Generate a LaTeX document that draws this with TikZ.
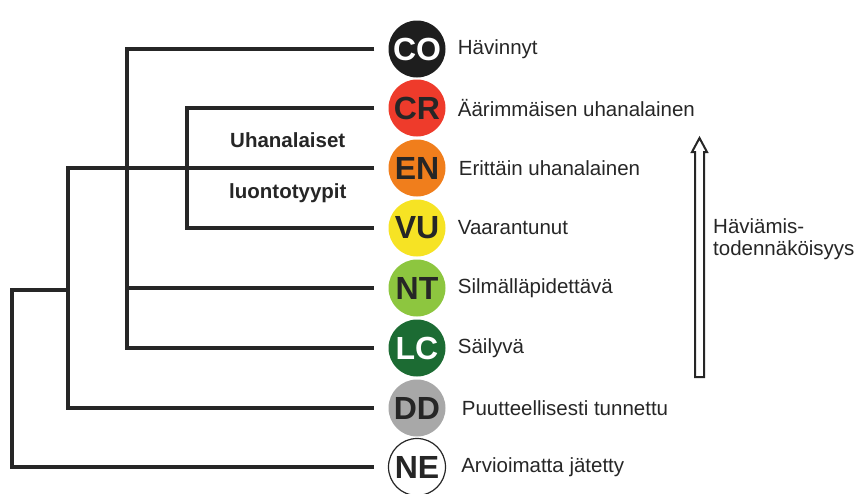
\documentclass[tikz,border=0pt]{standalone}
\usepackage{fontspec}
\setmainfont{Liberation Sans}
\begin{document}
\begin{tikzpicture}[x=1pt,y=-1pt,
  every node/.style={text=ink},
  badge/.style={circle, minimum size=57pt, inner sep=0pt,
    font=\fontsize{32}{32}\selectfont\bfseries},
  lbl/.style={anchor=west, inner sep=0pt, font=\fontsize{20.5}{22}\selectfont},
  grp/.style={anchor=west, inner sep=0pt, font=\fontsize{20.5}{22}\selectfont\bfseries},
  branch/.style={draw=ink, line width=4.5pt, line join=miter},
  rootline/.style={draw=ink, line width=3.5pt, line join=miter},
  trend/.style={draw=ink, line width=2pt, line join=miter}]
\definecolor{ink}{HTML}{262626}
\definecolor{coC}{HTML}{1E1E1E}
\definecolor{crC}{HTML}{EE3B2B}
\definecolor{enC}{HTML}{F07E1C}
\definecolor{vuC}{HTML}{F6E324}
\definecolor{ntC}{HTML}{8DC63F}
\definecolor{lcC}{HTML}{1C6B33}
\definecolor{ddC}{HTML}{A8A8A8}
\useasboundingbox (0,0) rectangle (857,493);

% category badges
\node[badge, fill=coC, text=white] (co) at (417,49) {CO};
\node[badge, fill=crC] (cr) at (417,108) {CR};
\node[badge, fill=enC] (en) at (417,168) {EN};
\node[badge, fill=vuC] (vu) at (417,228) {VU};
\node[badge, fill=ntC] (nt) at (417,288) {NT};
\node[badge, fill=lcC, text=white] (lc) at (417,348) {LC};
\node[badge, fill=ddC] (dd) at (417,408) {DD};
\node[badge, fill=white, draw=ink, line width=1.2pt] (ne) at (417,467) {NE};

% category names
\node[lbl] (tco) at ([xshift=12pt]co.east) {Hävinnyt};
\node[lbl] (tcr) at ([xshift=12pt]cr.east) {Äärimmäisen uhanalainen};
\node[lbl] (ten) at ([xshift=13pt]en.east) {Erittäin uhanalainen};
\node[lbl] (tvu) at ([xshift=12pt]vu.east) {Vaarantunut};
\node[lbl] (tnt) at ([xshift=12pt]nt.east) {Silmälläpidettävä};
\node[lbl] (tlc) at ([xshift=12pt]lc.east) {Säilyvä};
\node[lbl] (tdd) at ([xshift=16pt]dd.east) {Puutteellisesti tunnettu};
\node[lbl] (tne) at ([xshift=15pt]ne.east) {Arvioimatta jätetty};

% group label
\node[grp] (g1) at (230,140) {Uhanalaiset};
\node[grp] (g2) at (229,193) {luontotyypit};

% branching lines
\coordinate (kA) at (127,288);
\coordinate (kB) at (187,168);
\coordinate (kC) at (68,290);
\coordinate (kD) at (12,380);
\draw[branch] ([xshift=-14pt]co.west) -| (kA) |- ([xshift=-14pt]lc.west);
\draw[branch] (kA) -- ([xshift=-14pt]nt.west);
\draw[branch] ([xshift=-14pt]cr.west) -| (kB) |- ([xshift=-14pt]vu.west);
\draw[branch] ([xshift=-14pt]en.west) -| (kC) |- ([xshift=-14pt]dd.west);
\draw[rootline] (kC) -| (kD) |- ([xshift=-14pt]ne.west);

% hollow arrow: probability of disappearance
\coordinate (aB) at (699.5,377);
\coordinate (aT) at (699.5,138);
\draw[trend] ([xshift=-4.5pt]aB) -- ([xshift=-4.5pt]aB |- 0,152) -- ([xshift=-7.5pt]aB |- 0,152)
  -- (aT) -- ([xshift=7.5pt]aB |- 0,152) -- ([xshift=4.5pt]aB |- 0,152) -- ([xshift=4.5pt]aB) -- cycle;
\node[lbl, align=left] (trendlbl) at (713,239) {Häviämis-\\todennäköisyys};
\end{tikzpicture}
\end{document}
